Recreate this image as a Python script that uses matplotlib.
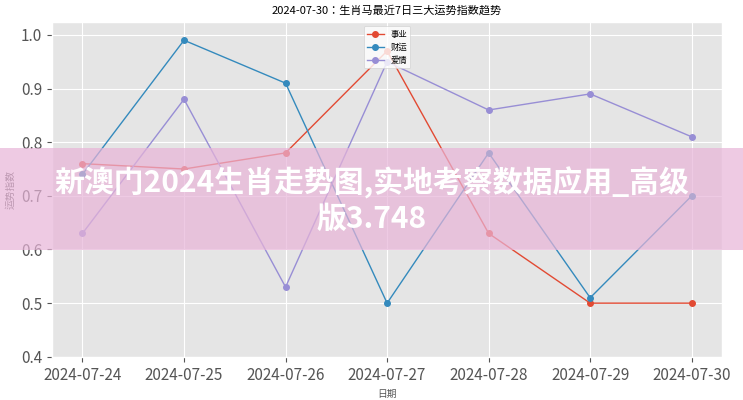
import matplotlib
matplotlib.use("Agg")
import matplotlib.pyplot as plt
from matplotlib import font_manager as fm
from matplotlib.patches import Rectangle

plt.style.use("ggplot")
cjk = sorted({f.name for f in fm.fontManager.ttflist if "CJK" in f.name and "Sans" in f.name})
cjk_name = "Noto Sans CJK SC" if "Noto Sans CJK SC" in cjk else (cjk[0] if cjk else "DejaVu Sans")
plt.rcParams["font.family"] = [cjk_name, "DejaVu Sans"]
plt.rcParams["axes.unicode_minus"] = False

dates = ["2024-07-24", "2024-07-25", "2024-07-26", "2024-07-27", "2024-07-28", "2024-07-29", "2024-07-30"]
career = [0.76, 0.75, 0.78, 0.97, 0.63, 0.50, 0.50]
wealth = [0.74, 0.99, 0.91, 0.50, 0.78, 0.51, 0.70]
love = [0.63, 0.88, 0.53, 0.95, 0.86, 0.89, 0.81]
labels = ["事业", "财运", "爱情"]
title = "2024-07-30：生肖马最近7日三大运势指数趋势"
banner = "新澳门2024生肖走势图,实地考察数据应用_高级\n版3.748"

fig = plt.figure(figsize=(7.43, 4.0), dpi=100)
ax = fig.add_axes([0.070, 0.108, 0.902, 0.837])
x = range(len(dates))
ax.plot(x, career, marker="o", markersize=4, lw=1, color="#E24A33", label=labels[0])
ax.plot(x, wealth, marker="o", markersize=4, lw=1, color="#348ABD", label=labels[1])
ax.plot(x, love, marker="o", markersize=4, lw=1, color="#988ED5", label=labels[2])
ax.set_xticks(list(x))
ax.set_xticklabels(dates, fontsize=11)
ax.set_ylim(0.4, 1.024)
ax.set_xlim(-0.3, 6.3)
ax.set_yticks([0.4, 0.5, 0.6, 0.7, 0.8, 0.9, 1.0])
ax.tick_params(axis="both", labelsize=11, colors="#555555")
ax.set_title(title, fontsize=8)
ax.set_xlabel("日期", fontsize=7)
ax.set_ylabel("运势指数", fontsize=7)
ax.legend(loc="upper center", fontsize=6, facecolor="white", framealpha=0.8)

fig.patches.append(Rectangle((0, 0.375), 1, 0.255, transform=fig.transFigure,
                             facecolor="#e8b4d8", alpha=0.7, edgecolor="none", zorder=5))
fig.text(0.5, 0.5, banner, ha="center", va="center", fontsize=21.5, fontweight="bold",
         color="white", zorder=6, linespacing=1.2)
fig.savefig("out.png", dpi=100)
